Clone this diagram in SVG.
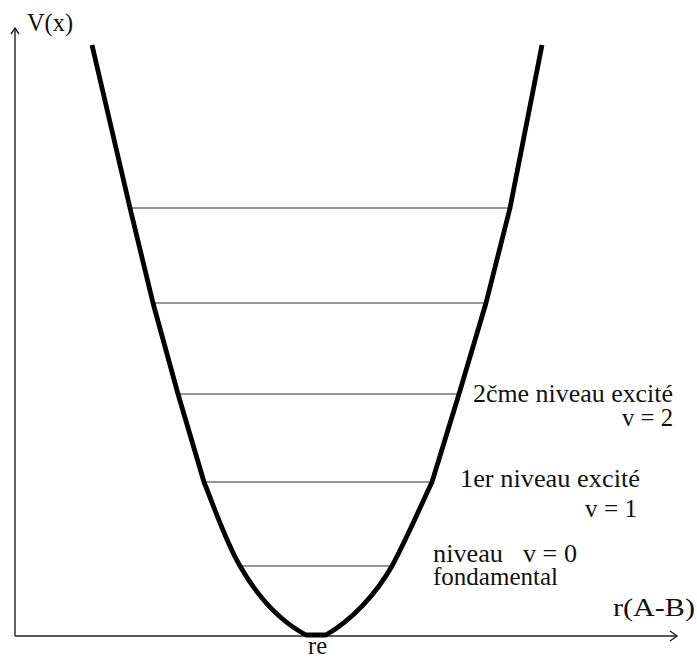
<svg xmlns="http://www.w3.org/2000/svg" width="697" height="661" viewBox="0 0 697 661">
  <style>
    .axis { fill: none; stroke: #222; stroke-width: 1.4; }
    .level { fill: none; stroke: #333; stroke-width: 1.2; }
    .curve { fill: none; stroke: #000; stroke-width: 4.8; stroke-linejoin: round; stroke-linecap: butt; }
    .lbl { font-family: "Liberation Serif", "Times New Roman", Times, serif; font-size: 25px; fill: #111; }
  </style>
  <rect x="0" y="0" width="697" height="661" fill="#fff"/>
  <g id="axes">
    <line class="axis" x1="15" y1="636" x2="15" y2="28"/>
    <polyline class="axis" points="11,34 15,28 19,34"/>
    <line class="axis" x1="15" y1="636" x2="677" y2="636"/>
    <polyline class="axis" points="670,631 677,636 670,641"/>
  </g>
  <g id="levels">
    <line class="level" x1="130" y1="208" x2="510" y2="208"/>
    <line class="level" x1="153" y1="303" x2="486" y2="303"/>
    <line class="level" x1="178" y1="394" x2="459" y2="394"/>
    <line class="level" x1="204" y1="482" x2="432" y2="482"/>
    <line class="level" x1="240" y1="566" x2="392" y2="566"/>
  </g>
  <g id="potential">
    <path class="curve" d="M92,45 L130,208 L153,303 L178,394 L204,482 C216,512 226,542 240,566 C256,594 278,620 306,635 L326,635 C352,620 376,594 392,566 C406,540 418,512 432,482 L459,394 L486,303 L510,208 L542,45"/>
  </g>
  <g id="labels">
    <text class="lbl" x="27" y="31" textLength="46" lengthAdjust="spacingAndGlyphs">V(x)</text>
    <text class="lbl" x="473" y="402" textLength="200" lengthAdjust="spacingAndGlyphs">2čme niveau excité</text>
    <text class="lbl" x="622" y="426" textLength="51" lengthAdjust="spacingAndGlyphs">v = 2</text>
    <text class="lbl" x="460" y="487" textLength="180" lengthAdjust="spacingAndGlyphs">1er niveau excité</text>
    <text class="lbl" x="585" y="517" textLength="52" lengthAdjust="spacingAndGlyphs">v = 1</text>
    <text class="lbl" x="433" y="562" textLength="70" lengthAdjust="spacingAndGlyphs">niveau</text>
    <text class="lbl" x="523" y="562" textLength="54" lengthAdjust="spacingAndGlyphs">v = 0</text>
    <text class="lbl" x="433" y="585" textLength="125" lengthAdjust="spacingAndGlyphs">fondamental</text>
    <text class="lbl" x="613" y="616" textLength="82" lengthAdjust="spacingAndGlyphs">r(A-B)</text>
    <text class="lbl" x="308" y="654" textLength="19" lengthAdjust="spacingAndGlyphs">re</text>
  </g>
</svg>
